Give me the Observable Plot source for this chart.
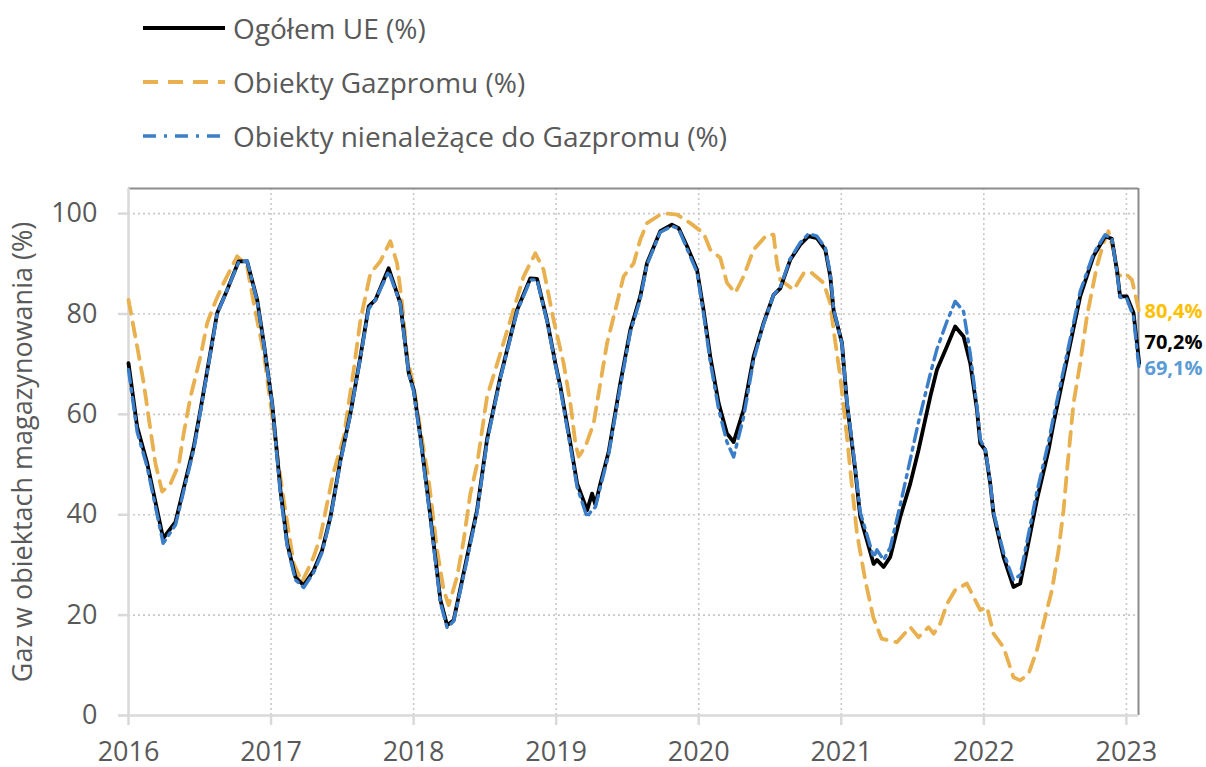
<!DOCTYPE html>
<html>
<head>
<meta charset="utf-8">
<script src="https://cdn.jsdelivr.net/npm/d3@7"></script>
<script src="https://cdn.jsdelivr.net/npm/@observablehq/plot@0.6"></script>
<style>
  html, body { margin: 0; padding: 0; background: #fff; overflow: hidden; }
  body { width: 1206px; height: 767px; font-family: "Open Sans", sans-serif; }
  #legend { position: relative; width: 1206px; height: 170px; }
  .row { position: absolute; left: 143px; display: flex; align-items: center; transform: translateY(-50%); }
  .row span { font-size: 28px; color: #595959; margin-left: 8px; white-space: nowrap; }
  #chart svg { display: block; }
</style>
</head>
<body>
<div id="legend"></div>
<div id="chart"></div>
<script>
// ---- Data ----
const seriesNames = ["Ogółem UE (%)", "Obiekty Gazpromu (%)", "Obiekty nienależące do Gazpromu (%)"];

// Shared sample dates (decimal years) for the EU total and the non-Gazprom series
const euYears = [
  2016.000, 2016.061, 2016.131, 2016.243, 2016.330, 2016.458, 2016.505, 2016.622, 2016.692, 2016.773,
  2016.832, 2016.903, 2016.949, 2017.008, 2017.066, 2017.113, 2017.171, 2017.229, 2017.299, 2017.358,
  2017.417, 2017.487, 2017.557, 2017.627, 2017.685, 2017.732, 2017.825, 2017.907, 2017.966, 2018.001,
  2018.048, 2018.118, 2018.188, 2018.235, 2018.281, 2018.375, 2018.445, 2018.515, 2018.609, 2018.726,
  2018.819, 2018.866, 2018.936, 2018.994, 2019.030, 2019.100, 2019.147, 2019.217, 2019.252, 2019.275,
  2019.310, 2019.368, 2019.450, 2019.520, 2019.590, 2019.637, 2019.730, 2019.812, 2019.859, 2019.918,
  2019.988, 2020.034, 2020.081, 2020.140, 2020.198, 2020.245, 2020.315, 2020.385, 2020.455, 2020.525,
  2020.572, 2020.642, 2020.712, 2020.771, 2020.829, 2020.888, 2020.923, 2020.946, 2021.005, 2021.040,
  2021.098, 2021.133, 2021.227, 2021.250, 2021.297, 2021.344, 2021.414, 2021.484, 2021.542, 2021.624,
  2021.671, 2021.741, 2021.799, 2021.858, 2021.905, 2021.952, 2021.975, 2022.010, 2022.045, 2022.068,
  2022.138, 2022.208, 2022.255, 2022.302, 2022.372, 2022.454, 2022.489, 2022.583, 2022.676, 2022.769,
  2022.851, 2022.898, 2022.933, 2022.956, 2023.003, 2023.050, 2023.074, 2023.090
];
const euTotal = [
  70.2, 57.5, 50.3, 35.3, 38.6, 53.6, 60.9, 80.2, 84.8, 90.5,
  90.5, 82.8, 74.2, 62.2, 44.9, 34.3, 27.6, 25.9, 28.9, 32.9,
  39.6, 50.9, 60.2, 71.5, 81.5, 82.8, 89.1, 82.1, 68.2, 64.9,
  55.5, 39.6, 23.0, 18.0, 19.0, 31.6, 40.9, 55.0, 67.5, 80.8,
  87.1, 87.0, 78.8, 70.2, 65.5, 54.2, 46.2, 40.9, 44.2, 42.0,
  46.2, 52.5, 66.2, 76.8, 83.5, 90.1, 96.5, 97.8, 97.1, 93.5,
  88.8, 80.8, 71.5, 62.2, 56.2, 54.5, 60.9, 71.5, 78.2, 83.8,
  85.1, 90.8, 93.8, 95.5, 95.1, 92.8, 87.5, 80.8, 74.2, 62.2,
  48.9, 39.6, 30.2, 31.0, 29.6, 31.6, 39.6, 46.2, 52.9, 63.5,
  68.9, 73.5, 77.5, 75.5, 70.2, 60.9, 54.2, 52.9, 46.2, 40.2,
  31.6, 25.6, 26.3, 32.9, 42.9, 52.9, 58.2, 70.9, 83.5, 91.5,
  95.5, 95.0, 88.8, 83.5, 83.5, 80.2, 74.2, 70.2
];
const nonGazprom = [
  68.9, 56.5, 49.5, 34.3, 38.0, 53.0, 60.5, 80.0, 84.8, 90.3,
  90.6, 82.5, 74.0, 62.0, 44.0, 33.8, 27.0, 25.5, 28.5, 32.5,
  39.3, 50.5, 60.0, 71.3, 81.0, 82.8, 88.5, 82.0, 68.0, 64.5,
  55.0, 39.0, 22.5, 17.5, 18.8, 31.0, 40.5, 54.5, 67.2, 80.5,
  86.8, 86.8, 78.5, 70.0, 65.0, 53.5, 45.5, 39.5, 41.0, 41.5,
  45.5, 52.0, 65.5, 76.3, 83.0, 89.8, 96.3, 97.5, 97.0, 93.0,
  88.3, 80.0, 70.5, 61.0, 54.5, 51.5, 59.5, 70.8, 78.0, 83.8,
  85.3, 91.0, 94.2, 96.0, 95.5, 93.2, 88.0, 81.0, 74.0, 62.5,
  49.5, 40.5, 31.5, 33.0, 31.0, 33.5, 42.0, 51.0, 58.5, 68.0,
  73.0, 78.5, 82.5, 80.5, 72.0, 61.5, 55.0, 53.0, 46.5, 40.5,
  32.5, 27.0, 28.0, 34.5, 44.5, 54.5, 59.5, 72.0, 84.5, 92.0,
  95.8, 95.0, 88.5, 83.3, 83.0, 79.5, 73.0, 69.1
];

// Gazprom-owned facilities
const gazYears = [
  2016.000, 2016.061, 2016.107, 2016.154, 2016.189, 2016.236, 2016.295, 2016.353, 2016.386, 2016.435,
  2016.505, 2016.552, 2016.610, 2016.668, 2016.762, 2016.832, 2016.879, 2016.949, 2016.996, 2017.043,
  2017.089, 2017.159, 2017.218, 2017.299, 2017.346, 2017.393, 2017.440, 2017.510, 2017.580, 2017.627,
  2017.697, 2017.767, 2017.837, 2017.884, 2017.919, 2017.954, 2018.001, 2018.048, 2018.106, 2018.165,
  2018.211, 2018.246, 2018.305, 2018.351, 2018.398, 2018.445, 2018.515, 2018.609, 2018.679, 2018.772,
  2018.854, 2018.912, 2018.982, 2019.052, 2019.100, 2019.135, 2019.158, 2019.205, 2019.263, 2019.310,
  2019.357, 2019.415, 2019.473, 2019.544, 2019.590, 2019.637, 2019.730, 2019.778, 2019.848, 2019.941,
  2020.034, 2020.081, 2020.151, 2020.198, 2020.257, 2020.315, 2020.385, 2020.479, 2020.525, 2020.549,
  2020.572, 2020.666, 2020.736, 2020.783, 2020.876, 2020.923, 2020.946, 2020.993, 2021.040, 2021.063,
  2021.110, 2021.168, 2021.224, 2021.283, 2021.390, 2021.484, 2021.542, 2021.612, 2021.648, 2021.694,
  2021.741, 2021.799, 2021.881, 2021.928, 2021.975, 2022.022, 2022.068, 2022.138, 2022.208, 2022.255,
  2022.314, 2022.372, 2022.430, 2022.478, 2022.524, 2022.559, 2022.583, 2022.629, 2022.676, 2022.723,
  2022.793, 2022.839, 2022.874, 2022.909, 2022.944, 2022.992, 2023.039, 2023.090
];
const gazprom = [
  82.8, 73.5, 66.2, 56.9, 50.2, 44.6, 46.2, 50.0, 56.0, 63.5,
  71.5, 78.2, 82.5, 86.2, 91.5, 89.5, 82.1, 72.2, 62.2, 52.0,
  42.9, 30.2, 26.6, 31.6, 35.6, 42.2, 48.6, 55.5, 68.9, 78.8,
  88.1, 90.5, 94.5, 90.1, 82.1, 71.5, 65.5, 56.9, 46.9, 32.9,
  25.0, 22.0, 27.6, 34.9, 44.2, 50.0, 63.5, 72.2, 78.8, 87.5,
  92.1, 88.8, 78.8, 70.2, 62.2, 54.2, 51.6, 53.6, 58.2, 66.2,
  74.2, 80.8, 87.5, 90.1, 94.8, 98.1, 99.8, 100.0, 99.8, 98.1,
  96.1, 92.8, 91.2, 86.2, 84.2, 87.5, 92.8, 95.8, 95.8, 90.1,
  86.8, 84.8, 88.1, 88.4, 86.2, 82.1, 76.8, 67.5, 55.5, 49.0,
  36.3, 27.0, 19.6, 15.3, 14.6, 17.6, 15.6, 17.6, 16.3, 18.3,
  22.2, 25.0, 26.3, 23.6, 21.0, 21.6, 16.3, 13.6, 7.6, 7.0,
  8.3, 13.0, 19.6, 25.0, 32.9, 40.9, 48.6, 62.2, 70.2, 79.5,
  89.5, 94.1, 96.5, 92.8, 87.5, 88.1, 86.8, 80.4
];

// Axis ticks and end labels
const yearTicks = [2016, 2017, 2018, 2019, 2020, 2021, 2022, 2023];
const valueTicks = [0, 20, 40, 60, 80, 100];
const endLabels = ["80,4%", "70,2%", "69,1%"];
const yTitle = "Gaz w obiektach magazynowania (%)";

// ---- Styles ----
const colors = { eu: "#000000", gaz: "#E8B04F", non: "#3A7DC8" };
const labelColors = ["#FFC000", "#000000", "#5B9BD5"];
const dashGaz = "14,9";
const dashNon = "13,6,3,6";

// ---- Legend (HTML, above the SVG) ----
const legendSpec = [
  { name: seriesNames[0], color: colors.eu, dash: null, w: 4 },
  { name: seriesNames[1], color: colors.gaz, dash: "15,10", w: 4 },
  { name: seriesNames[2], color: colors.non, dash: "13,8,3,8", w: 3.5 }
];
const legend = document.getElementById("legend");
legendSpec.forEach((s, i) => {
  const row = document.createElement("div");
  row.className = "row";
  row.style.top = (28 + 54 * i) + "px";
  row.innerHTML = `<svg width="82" height="10"><line x1="0" x2="82" y1="5" y2="5" stroke="${s.color}" stroke-width="${s.w}" ${s.dash ? `stroke-dasharray="${s.dash}"` : ""}/></svg><span>${s.name}</span>`;
  legend.appendChild(row);
});

// ---- Chart ----
const eu = euYears.map((x, i) => ({ x, y: euTotal[i] }));
const non = euYears.map((x, i) => ({ x, y: nonGazprom[i] }));
const gaz = gazYears.map((x, i) => ({ x, y: gazprom[i] }));
const xMax = 2023.085;
const endGaz = [{ x: xMax, y: gazprom[gazprom.length - 1], text: endLabels[0] }];
const endEu = [{ x: xMax, y: euTotal[euTotal.length - 1], text: endLabels[1] }];
const endNon = [{ x: xMax, y: nonGazprom[nonGazprom.length - 1], text: endLabels[2] }];
const endStyle = { x: "x", y: "y", text: "text", dx: 6, textAnchor: "start", fontSize: 20, fontWeight: "bold" };

const chart = Plot.plot({
  width: 1206,
  height: 597,
  marginLeft: 128,
  marginRight: 68,
  marginTop: 18,
  marginBottom: 52,
  style: { fontFamily: "'Open Sans', sans-serif", background: "#fff", overflow: "visible" },
  x: { type: "linear", domain: [2016, xMax] },
  y: { domain: [0, 105] },
  marks: [
    // dotted grid
    Plot.ruleY(valueTicks.filter(d => d > 0), { stroke: "#c8c8c8", strokeWidth: 1.6, strokeDasharray: "2,3" }),
    Plot.ruleX(yearTicks.filter(d => d > 2016), { y1: 0, y2: 105, stroke: "#c8c8c8", strokeWidth: 1.6, strokeDasharray: "2,3" }),
    // frame
    Plot.ruleY([105], { stroke: "#8c8c8c", strokeWidth: 2 }),
    Plot.ruleX([xMax], { y1: 0, y2: 105, stroke: "#8c8c8c", strokeWidth: 2 }),
    Plot.ruleY([0], { stroke: "#d9d9d9", strokeWidth: 2.5 }),
    Plot.ruleX([2016], { y1: 0, y2: 105, stroke: "#d9d9d9", strokeWidth: 2.5 }),
    // series
    Plot.line(gaz, { x: "x", y: "y", stroke: colors.gaz, strokeWidth: 3.8, strokeDasharray: dashGaz, strokeLinejoin: "round" }),
    Plot.line(eu, { x: "x", y: "y", stroke: colors.eu, strokeWidth: 3.8, strokeLinejoin: "round" }),
    Plot.line(non, { x: "x", y: "y", stroke: colors.non, strokeWidth: 3.4, strokeDasharray: dashNon, strokeLinejoin: "round" }),
    // end labels
    Plot.text(endGaz, { ...endStyle, fill: labelColors[0] }),
    Plot.text(endEu, { ...endStyle, fill: labelColors[1], dy: -21 }),
    Plot.text(endNon, { ...endStyle, fill: labelColors[2] }),
    // axes
    Plot.axisX({ ticks: yearTicks, tickFormat: d => String(d), tickSize: 10, tickPadding: 16, fontSize: 27, stroke: "#d9d9d9", strokeWidth: 2.5, fill: "#595959", label: null }),
    Plot.axisY({ ticks: valueTicks, tickSize: 10, tickPadding: 21, fontSize: 27, stroke: "#d9d9d9", strokeWidth: 2.5, fill: "#595959", label: null }),
    // y title
    Plot.text([yTitle], { frameAnchor: "left", rotate: -90, dx: -105, textAnchor: "middle", lineAnchor: "middle", fontSize: 27, fill: "#595959" })
  ]
});
document.getElementById("chart").appendChild(chart);
</script>
</body>
</html>
